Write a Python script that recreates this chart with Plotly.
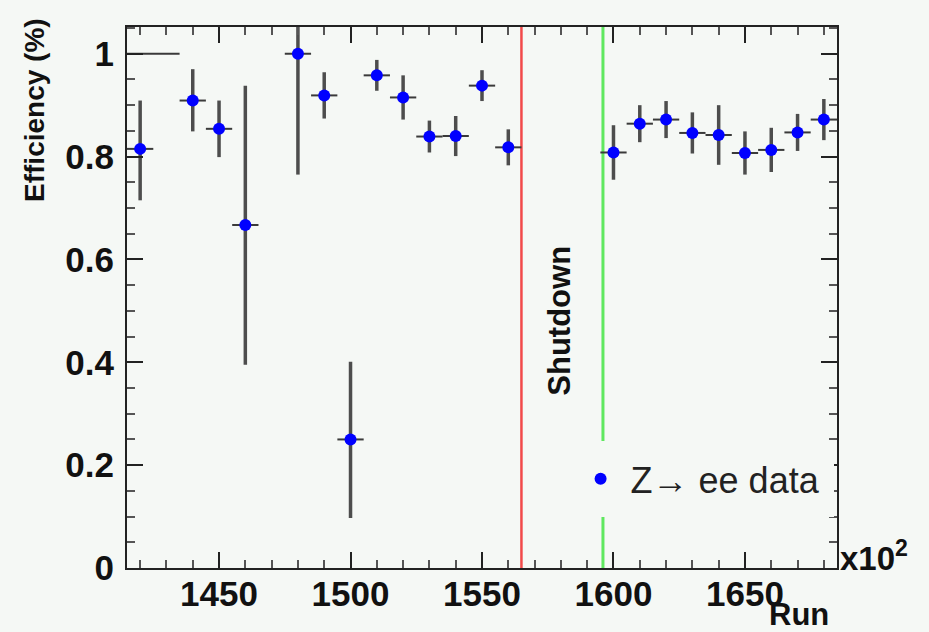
import plotly.graph_objects as go

# Z -> ee efficiency per run block (run numbers in units of 100)
runs = [1420, 1440, 1450, 1460, 1480, 1490, 1500, 1510, 1520, 1530, 1540, 1550, 1560,
        1600, 1610, 1620, 1630, 1640, 1650, 1660, 1670, 1680]
eff = [0.815, 0.909, 0.854, 0.667, 1.000, 0.919, 0.250, 0.958, 0.915, 0.839, 0.840, 0.938, 0.818,
       0.808, 0.864, 0.872, 0.846, 0.842, 0.807, 0.813, 0.847, 0.872]
err_up = [0.094, 0.061, 0.055, 0.271, 0.235, 0.045, 0.151, 0.030, 0.043, 0.031, 0.039, 0.030, 0.035,
          0.053, 0.036, 0.036, 0.040, 0.058, 0.042, 0.043, 0.036, 0.040]
err_down = [0.100, 0.060, 0.055, 0.272, 0.235, 0.045, 0.153, 0.030, 0.043, 0.031, 0.039, 0.030, 0.035,
            0.053, 0.036, 0.036, 0.040, 0.058, 0.042, 0.043, 0.036, 0.040]
bin_half = [5] * len(runs)

# block with full efficiency and no vertical uncertainty (marker not drawn)
full_runs = [1425]
full_eff = [1.0]
full_half = [10]

# shutdown period boundaries
shutdown_start = 1565
shutdown_end = 1596

x_range = [1415, 1685]
y_range = [0, 1.052]

BG = "#f5f8f5"
AXIS = "#222222"

fig = go.Figure()

fig.add_trace(go.Scatter(
    x=full_runs, y=full_eff, mode="markers",
    marker=dict(size=1, color="rgba(0,0,0,0)"),
    error_x=dict(type="data", array=full_half, color="#3a3a3a", thickness=2, width=0),
    showlegend=False, hoverinfo="skip",
))

fig.add_trace(go.Scatter(
    x=runs, y=eff, mode="markers", name="Z\u2192 ee data",
    marker=dict(size=12, color="#0000ff", line=dict(width=0)),
    error_y=dict(type="data", symmetric=False, array=err_up, arrayminus=err_down,
                 color="#4d4d4d", thickness=3.5, width=0),
    error_x=dict(type="data", array=bin_half, color="#3a3a3a", thickness=2, width=0),
))

# shutdown markers
fig.add_shape(type="line", xref="x", yref="paper", x0=shutdown_start, x1=shutdown_start,
              y0=0, y1=1, line=dict(color="#f24a4a", width=2.5), layer="below")
fig.add_shape(type="line", xref="x", yref="paper", x0=shutdown_end, x1=shutdown_end,
              y0=0, y1=1, line=dict(color="#5fe85f", width=3), layer="below")

tick_font = dict(family="Liberation Sans, Arial, sans-serif", size=35, color="#111111", weight="bold")

fig.update_xaxes(
    range=x_range, tickmode="linear", tick0=1450, dtick=50,
    ticks="inside", ticklen=16, tickwidth=1.5, tickcolor=AXIS,
    minor=dict(ticks="inside", dtick=10, ticklen=8, tickwidth=1.5, tickcolor="#555555"),
    showline=True, linecolor=AXIS, linewidth=2, mirror="ticks",
    showgrid=False, zeroline=False, tickfont=tick_font, ticklabelstandoff=-6,
)
fig.update_yaxes(
    range=y_range, tickmode="linear", tick0=0, dtick=0.2,
    ticks="inside", ticklen=16, tickwidth=1.5, tickcolor=AXIS,
    minor=dict(ticks="inside", dtick=0.05, ticklen=8, tickwidth=1.5, tickcolor="#555555"),
    showline=True, linecolor=AXIS, linewidth=2, mirror="ticks",
    showgrid=False, zeroline=False, tickfont=tick_font, ticklabelstandoff=4,
)

narrow_bold = dict(family="Liberation Sans Narrow, Liberation Sans, Arial, sans-serif",
                   color="#111111", weight="bold")

fig.add_annotation(text="Efficiency (%)", xref="paper", yref="paper", x=-0.1296, y=0.8466,
                   xanchor="center", yanchor="middle", textangle=-90, showarrow=False,
                   font=dict(size=28, **narrow_bold))
fig.add_annotation(text="Shutdown", xref="x", yref="y", x=1579.5, y=0.48,
                   xanchor="center", yanchor="middle", textangle=-90, showarrow=False,
                   font=dict(size=31, **narrow_bold))
fig.add_annotation(text="Run", xref="paper", yref="paper", x=1, y=0, xshift=-6, yshift=-27,
                   xanchor="right", yanchor="top", showarrow=False,
                   font=dict(family="Liberation Sans, Arial, sans-serif", size=31,
                             color="#111111", weight="bold"))
fig.add_annotation(text="x10<sup>2</sup>", xref="paper", yref="paper", x=1, y=0, xshift=1, yshift=12,
                   xanchor="left", yanchor="middle", showarrow=False,
                   font=dict(family="Liberation Sans, Arial, sans-serif", size=33,
                             color="#111111", weight="bold"))

fig.update_layout(
    width=929, height=632,
    margin=dict(l=127, r=92, t=27, b=64),
    paper_bgcolor=BG, plot_bgcolor=BG,
    showlegend=True,
    legend=dict(x=0.6135, y=0.235, xanchor="left", yanchor="top",
                bgcolor=BG, bordercolor=BG, borderwidth=8,
                font=dict(family="Liberation Sans, Arial, sans-serif", size=36, color="#222222"),
                itemwidth=50),
)

fig.write_html("out.html")
